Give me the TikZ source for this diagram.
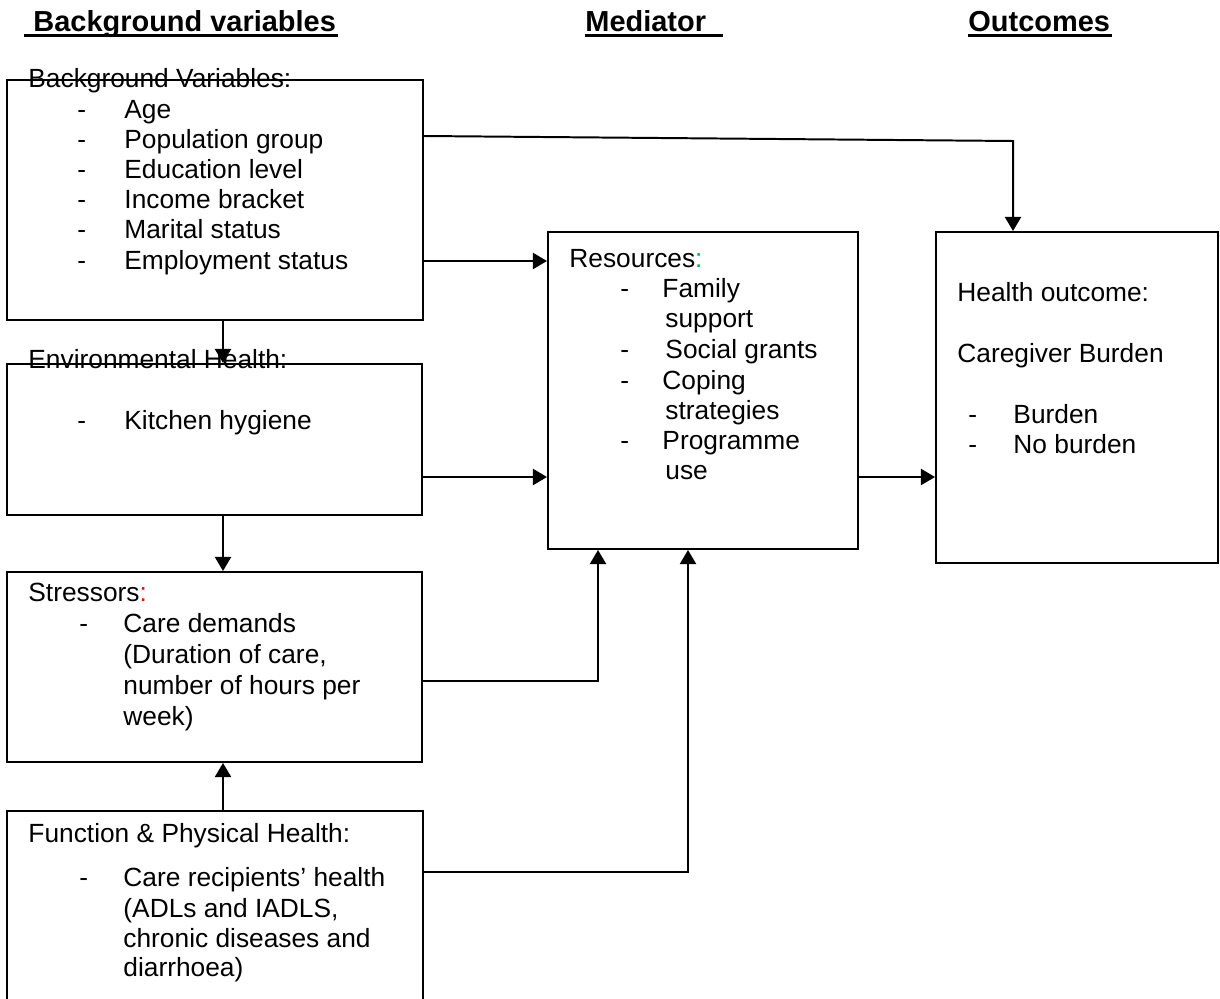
\documentclass[tikz,border=0pt]{standalone}
\usepackage{fontspec}
\setmainfont{Liberation Sans}
\usetikzlibrary{arrows.meta,fit}
\definecolor{colonred}{RGB}{255,0,0}
\definecolor{colongreen}{RGB}{0,176,80}
\begin{document}
\begin{tikzpicture}[x=0.456pt,y=-0.456pt,
  box/.style={draw,line width=0.9pt,inner sep=0pt},
  txt/.style={inner sep=0pt,anchor=base west,font=\fontsize{12pt}{13.8pt}\selectfont},
  head/.style={inner sep=0pt,anchor=base west,font=\fontsize{13.2pt}{15pt}\selectfont\bfseries},
  uline/.style={line width=1.8pt},
  arr/.style={line width=0.9pt,-{Triangle[length=6.4pt,width=7.3pt]}}]
\useasboundingbox (0,0) rectangle (1220,998);
\clip (0,0) rectangle (1220,998);

% column headings
\node[head] (hbg) at (33,32) {Background variables};
\draw[uline] (24,35.5) -- (338,35.5);
\node[head] (hmed) at (585,32) {Mediator};
\draw[uline] (585,35.5) -- (723,35.5);
\node[head] (hout) at (968,32) {Outcomes};
\draw[uline] (968,35.5) -- (1112,35.5);

% boxes
\node[box,fit={(7,80) (423,320)}] (bg) {};
\node[box,fit={(7,364) (422,515)}] (env) {};
\node[box,fit={(7,572) (422,762)}] (st) {};
\node[box,fit={(7,811) (423,1012)}] (fn) {};
\node[box,fit={(548,232) (858,549)}] (res) {};
\node[box,fit={(936,232) (1218,563)}] (out) {};

% background variables
\node[txt] (bgt) at (28,87) {Background Variables:};
\node[txt] (bgd1) at (77,118) {-}; \node[txt] (bgi1) at (124,118) {Age};
\node[txt] (bgd2) at (77,148) {-}; \node[txt] (bgi2) at (124,148) {Population group};
\node[txt] (bgd3) at (77,178) {-}; \node[txt] (bgi3) at (124,178) {Education level};
\node[txt] (bgd4) at (77,208) {-}; \node[txt] (bgi4) at (124,208) {Income bracket};
\node[txt] (bgd5) at (77,238) {-}; \node[txt] (bgi5) at (124,238) {Marital status};
\node[txt] (bgd6) at (77,269) {-}; \node[txt] (bgi6) at (124,269) {Employment status};

% environmental health
\node[txt] (envt) at (28,368) {Environmental Health:};
\node[txt] (envd1) at (77,429) {-}; \node[txt] (envi1) at (124,429) {Kitchen hygiene};

% stressors
\node[txt] (stt) at (28,601) {Stressors\textcolor{colonred}{:}};
\node[txt] (std1) at (79,632) {-};
\node[txt] (sti1) at (123,632) {Care demands};
\node[txt] (sti2) at (123,663) {(Duration of care,};
\node[txt] (sti3) at (123,694) {number of hours per};
\node[txt] (sti4) at (123,725) {week)};

% function and physical health
\node[txt] (fnt) at (28,842) {Function \& Physical Health:};
\node[txt] (fnd1) at (79,886) {-};
\node[txt] (fni1) at (123,886) {Care recipients’ health};
\node[txt] (fni2) at (123,917) {(ADLs and IADLS,};
\node[txt] (fni3) at (123,947) {chronic diseases and};
\node[txt] (fni4) at (123,976) {diarrhoea)};

% resources
\node[txt] (rest) at (569,267) {Resources\textcolor{colongreen}{:}};
\node[txt] (resd1) at (620,297) {-}; \node[txt] (resi1) at (662,297) {Family};
\node[txt] (resi1b) at (665,327) {support};
\node[txt] (resd2) at (620,358) {-}; \node[txt] (resi2) at (665,358) {Social grants};
\node[txt] (resd3) at (620,389) {-}; \node[txt] (resi3) at (662,389) {Coping};
\node[txt] (resi3b) at (665,419) {strategies};
\node[txt] (resd4) at (620,449) {-}; \node[txt] (resi4) at (662,449) {Programme};
\node[txt] (resi4b) at (665,479) {use};

% outcome
\node[txt] (outt) at (957,301) {Health outcome:};
\node[txt] (outs) at (957,362) {Caregiver Burden};
\node[txt] (outd1) at (968,423) {-}; \node[txt] (outi1) at (1013,423) {Burden};
\node[txt] (outd2) at (968,453) {-}; \node[txt] (outi2) at (1013,453) {No burden};

% connectors
\coordinate (p0) at (223,0);
\draw[arr] (bg.south -| p0) -- (env.north -| p0);
\draw[arr] (env.south -| p0) -- (st.north -| p0);
\draw[arr] (fn.north -| p0) -- (st.south -| p0);
\coordinate (r1) at (0,261);
\draw[arr] (bg.east |- r1) -- (res.west |- r1);
\coordinate (r2) at (0,477);
\draw[arr] (env.east |- r2) -- (res.west |- r2);
\draw[arr] (res.east |- r2) -- (out.west |- r2);
\coordinate (k0) at (0,136);
\coordinate (k1) at (1013,141);
\draw[arr] (bg.east |- k0) -- (k1) -- (out.north -| k1);
\coordinate (j1) at (598,681);
\draw[arr] (st.east |- j1) -- (j1) -- (res.south -| j1);
\coordinate (j2) at (688,872);
\draw[arr] (fn.east |- j2) -- (j2) -- (res.south -| j2);
\end{tikzpicture}
\end{document}
